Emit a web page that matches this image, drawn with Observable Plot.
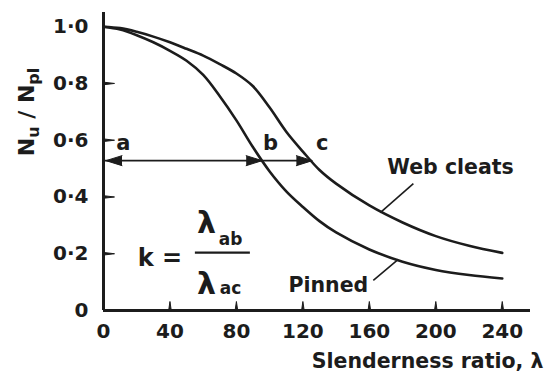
<!DOCTYPE html>
<html><head><meta charset="utf-8">
<script src="https://cdn.jsdelivr.net/npm/d3@7"></script>
<script src="https://cdn.jsdelivr.net/npm/@observablehq/plot@0.6"></script>
<style>
body{margin:0;background:#fff;}
#chart svg{display:block;}
</style></head><body><div id="chart"></div>
<script>
// Slenderness ratio values (x) and normalised strength Nu/Npl for the two curves
const lambda    = [0, 10, 20, 30, 40, 50, 60, 70, 80, 90, 100, 110, 120, 130, 140, 160, 180, 200, 220, 240];
const pinned    = [1.0, 0.99, 0.97, 0.945, 0.915, 0.88, 0.83, 0.755, 0.67, 0.575, 0.49, 0.42, 0.365, 0.315, 0.275, 0.215, 0.172, 0.143, 0.125, 0.113];
const webCleats = [1.0, 0.995, 0.982, 0.965, 0.945, 0.922, 0.898, 0.868, 0.835, 0.79, 0.715, 0.63, 0.56, 0.495, 0.447, 0.37, 0.31, 0.262, 0.228, 0.203];

const xTicks = [0, 40, 80, 120, 160, 200, 240];
const yTicks = [0, 0.2, 0.4, 0.6, 0.8, 1.0];
const yTickLabels = ["0", "0·2", "0·4", "0·6", "0·8", "1·0"];

// points a, b, c on the horizontal arrow
const pointNames = ["a", "b", "c"];
const pointLambda = [0, 95.5, 125.7];
const arrowLevel = 0.528;
const headLambda = [1.5, 95.5, 125.7];
const headRotate = [-90, 90, 90];
const pointLabelLambda = [12, 100.5, 131.7];
const pointLabelLevel = 0.588;

// curve labels and leader lines
const curveNames = ["Web cleats", "Pinned"];
const curveLabelLambda = [170.8, 111.3];
const curveLabelLevel = [0.503, 0.088];
const leaderFromLambda = [166.6, 162.4];
const leaderFromLevel = [0.345, 0.106];
const leaderToLambda = [186.5, 177.4];
const leaderToLevel = [0.447, 0.18];

// formula k = λab / λac
const kLabelPos = [34, 0.183];
const fracBar = [55.3, 88.4, 0.204];
const lamPos = [[62, 0.306], [62, 0.092]];
const subText = ["ab", "ac"];
const subPos = [[76.5, 0.25], [76.5, 0.077]];

const xLabel = "Slenderness ratio, λ";

const ink = "#1c1c1c";
const FONT = "'DejaVu Sans', sans-serif";

const W = 546, H = 378, mL = 103, mR = 16, mT = 12, mB = 68;
const xDomain = [0, 257], yDomain = [0, 1.05];

const rows = (ys) => lambda.map((x, i) => ({x, y: ys[i]}));

const chart = Plot.plot({
  width: W,
  height: H,
  marginLeft: mL,
  marginRight: mR,
  marginTop: mT,
  marginBottom: mB,
  x: {domain: xDomain, label: null},
  y: {domain: yDomain, label: null},
  style: {fontFamily: FONT, color: ink, background: "#fff"},
  marks: [
    Plot.axisX(xTicks, {tickSize: 0, tickPadding: 13, fontSize: 20, fontWeight: "bold", label: null}),
    Plot.axisY(yTicks, {tickSize: 0, tickPadding: 15, fontSize: 20, fontWeight: "bold", label: null,
      tickFormat: (d) => yTickLabels[yTicks.indexOf(d)]}),
    Plot.ruleY([0], {stroke: ink, strokeWidth: 3}),
    Plot.ruleX([0], {stroke: ink, strokeWidth: 3}),
    // inward tick marks drawn as thin vectors from the axes
    Plot.vector(xTicks.slice(1), {x: (d) => d, y: () => 0, rotate: 0, length: 9, r: 1.3,
      shape: "spike", anchor: "start", fill: ink, stroke: ink, strokeWidth: 1}),
    Plot.vector(yTicks.slice(1, 5), {x: () => 0, y: (d) => d, rotate: 90, length: 11, r: 1.3,
      shape: "spike", anchor: "start", fill: ink, stroke: ink, strokeWidth: 1}),
    Plot.line(rows(pinned), {x: "x", y: "y", curve: "catmull-rom", stroke: ink, strokeWidth: 2.6}),
    Plot.line(rows(webCleats), {x: "x", y: "y", curve: "catmull-rom", stroke: ink, strokeWidth: 2.6}),
    Plot.ruleY([arrowLevel], {x1: pointLambda[0], x2: pointLambda[2], stroke: ink, strokeWidth: 1.6}),
    Plot.vector(headLambda.map((x, i) => ({x, r: headRotate[i]})), {
      x: "x", y: () => arrowLevel, rotate: "r", length: 16, r: 5, shape: "spike", anchor: "end",
      fill: ink, stroke: ink, strokeWidth: 1
    }),
    Plot.text(pointNames, {x: (d, i) => pointLabelLambda[i], y: () => pointLabelLevel, text: (d) => d,
      fontSize: 21, fontWeight: "bold", fill: ink}),
    Plot.link(curveNames, {x1: (d, i) => leaderFromLambda[i], y1: (d, i) => leaderFromLevel[i],
      x2: (d, i) => leaderToLambda[i], y2: (d, i) => leaderToLevel[i], stroke: ink, strokeWidth: 1.6}),
    Plot.text(curveNames, {x: (d, i) => curveLabelLambda[i], y: (d, i) => curveLabelLevel[i], text: (d) => d,
      textAnchor: "start", fontSize: 20.5, fontWeight: "bold", fill: ink}),
    Plot.text(["k ="], {x: () => kLabelPos[0], y: () => kLabelPos[1], text: (d) => d,
      fontSize: 24, fontWeight: "bold", fill: ink}),
    Plot.ruleY([fracBar[2]], {x1: fracBar[0], x2: fracBar[1], stroke: ink, strokeWidth: 2.4}),
    Plot.text(lamPos, {x: (d) => d[0], y: (d) => d[1], text: () => "λ", fontSize: 30, fontWeight: "bold", fill: ink}),
    Plot.text(subText, {x: (d, i) => subPos[i][0], y: (d, i) => subPos[i][1], text: (d) => d,
      fontSize: 17, fontWeight: "bold", fill: ink}),
    Plot.text([xLabel], {frameAnchor: "bottom-right", text: (d) => d, textAnchor: "end", dx: 13, dy: 57,
      fontSize: 20.5, fontWeight: "bold", fill: ink})
  ]
});

document.getElementById("chart").appendChild(chart);

// rotated y-axis label Nu / Npl
const svg = d3.select(chart);
const t = svg.append("text")
  .attr("transform", "translate(34,112) rotate(-90)")
  .attr("text-anchor", "middle")
  .attr("font-family", FONT)
  .attr("font-weight", "bold")
  .attr("font-size", 22)
  .attr("fill", ink);
t.append("tspan").text("N");
t.append("tspan").attr("font-size", 16).attr("dy", 5).text("u");
t.append("tspan").attr("dy", -5).text(" / N");
t.append("tspan").attr("font-size", 16).attr("dy", 5).text("pl");
</script>
</body></html>
